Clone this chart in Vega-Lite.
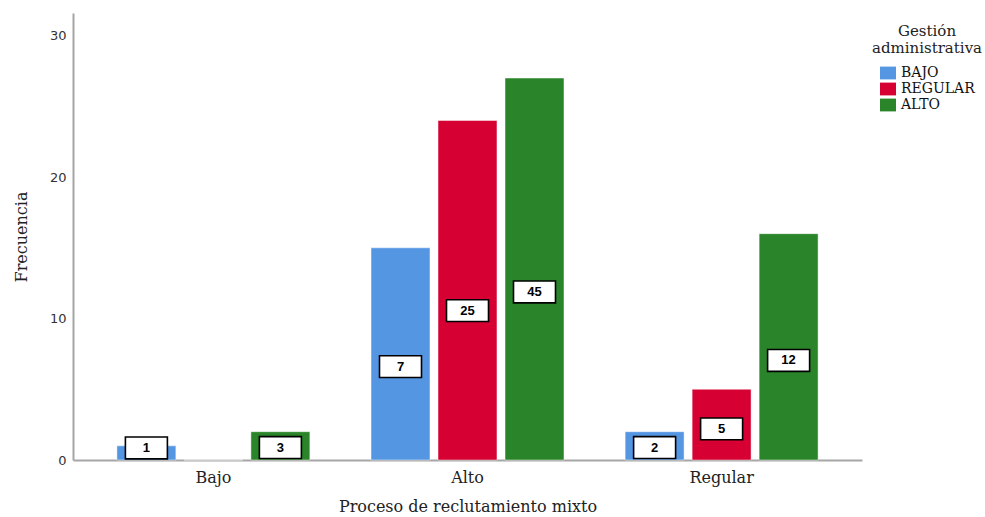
{
  "$schema": "https://vega.github.io/schema/vega-lite/v6.json",
  "width": 789,
  "height": 447,
  "autosize": "none",
  "padding": {"left": 73, "top": 13, "right": 123, "bottom": 57},
  "background": "white",
  "config": {
    "view": {"stroke": null},
    "axis": {"grid": false, "ticks": false, "domainColor": "#a6a6a6", "domainWidth": 2}
  },
  "data": {
    "values": [
      {"proceso": "Bajo", "gestion": "BAJO", "frecuencia": 1, "etiqueta": "1"},
      {"proceso": "Bajo", "gestion": "REGULAR", "frecuencia": 0, "etiqueta": null},
      {"proceso": "Bajo", "gestion": "ALTO", "frecuencia": 2, "etiqueta": "3"},
      {"proceso": "Alto", "gestion": "BAJO", "frecuencia": 15, "etiqueta": "7"},
      {"proceso": "Alto", "gestion": "REGULAR", "frecuencia": 24, "etiqueta": "25"},
      {"proceso": "Alto", "gestion": "ALTO", "frecuencia": 27, "etiqueta": "45"},
      {"proceso": "Regular", "gestion": "BAJO", "frecuencia": 2, "etiqueta": "2"},
      {"proceso": "Regular", "gestion": "REGULAR", "frecuencia": 5, "etiqueta": "5"},
      {"proceso": "Regular", "gestion": "ALTO", "frecuencia": 16, "etiqueta": "12"}
    ]
  },
  "encoding": {
    "x": {
      "field": "proceso",
      "type": "nominal",
      "sort": ["Bajo", "Alto", "Regular"],
      "scale": {"paddingInner": 0.209, "paddingOuter": 0.157},
      "axis": {
        "title": "Proceso de reclutamiento mixto",
        "labelAngle": 0,
        "labelFont": "DejaVu Serif",
        "labelFontSize": 16,
        "labelColor": "#222222",
        "labelPadding": 9,
        "titleFont": "DejaVu Serif",
        "titleFontSize": 16,
        "titleFontWeight": "normal",
        "titleColor": "#222222",
        "titlePadding": 13
      }
    },
    "xOffset": {
      "field": "gestion",
      "type": "nominal",
      "sort": ["BAJO", "REGULAR", "ALTO"],
      "scale": {"paddingInner": 0.12, "paddingOuter": 0.06}
    }
  },
  "layer": [
    {
      "mark": {"type": "bar", "stroke": "white", "strokeOpacity": 0.45, "strokeWidth": 1},
      "encoding": {
        "y": {
          "field": "frecuencia",
          "type": "quantitative",
          "scale": {"domain": [0, 31.6], "nice": false},
          "axis": {
            "title": "Frecuencia",
            "values": [0, 10, 20, 30],
            "labelFont": "DejaVu Sans",
            "labelFontSize": 13,
            "labelColor": "#333333",
            "labelPadding": 7,
            "titleFont": "DejaVu Serif",
            "titleFontSize": 16,
            "titleFontWeight": "normal",
            "titleColor": "#222222",
            "titlePadding": 20
          }
        },
        "color": {
          "field": "gestion",
          "type": "nominal",
          "sort": ["BAJO", "REGULAR", "ALTO"],
          "scale": {"domain": ["BAJO", "REGULAR", "ALTO"], "range": ["#5596e3", "#d60032", "#2a8429"]},
          "legend": {
            "title": ["Gestión", "administrativa"],
            "orient": "none",
            "legendX": 799,
            "legendY": 11,
            "padding": 0,
            "titleFont": "DejaVu Serif",
            "titleFontSize": 15,
            "titleFontWeight": "normal",
            "titleColor": "#222222",
            "titleLineHeight": 17,
            "titleAnchor": "middle",
            "titleAlign": "center",
            "titlePadding": 9,
            "labelFont": "DejaVu Serif",
            "labelFontSize": 14,
            "labelColor": "#111111",
            "labelOffset": 5,
            "symbolType": "M-1,-0.8H1V0.8H-1Z",
            "symbolSize": 256,
            "symbolStrokeWidth": 0,
            "symbolOpacity": 1,
            "rowPadding": 1
          }
        }
      }
    },
    {
      "transform": [
        {"filter": "datum.etiqueta != null"},
        {"calculate": "max(datum.frecuencia * 0.44, 0.85)", "as": "posicion"}
      ],
      "mark": {
        "type": "point",
        "shape": "M-1,-0.52H1V0.52H-1Z",
        "size": 1764,
        "filled": true,
        "fill": "white",
        "stroke": "black",
        "strokeWidth": 1.6,
        "opacity": 1
      },
      "encoding": {
        "y": {"field": "posicion", "type": "quantitative"}
      }
    },
    {
      "transform": [
        {"filter": "datum.etiqueta != null"},
        {"calculate": "max(datum.frecuencia * 0.44, 0.85)", "as": "posicion"}
      ],
      "mark": {
        "type": "text",
        "font": "Liberation Sans",
        "fontSize": 13,
        "fontWeight": "bold",
        "color": "black",
        "baseline": "middle",
        "align": "center"
      },
      "encoding": {
        "y": {"field": "posicion", "type": "quantitative"},
        "text": {"field": "etiqueta"}
      }
    }
  ]
}
